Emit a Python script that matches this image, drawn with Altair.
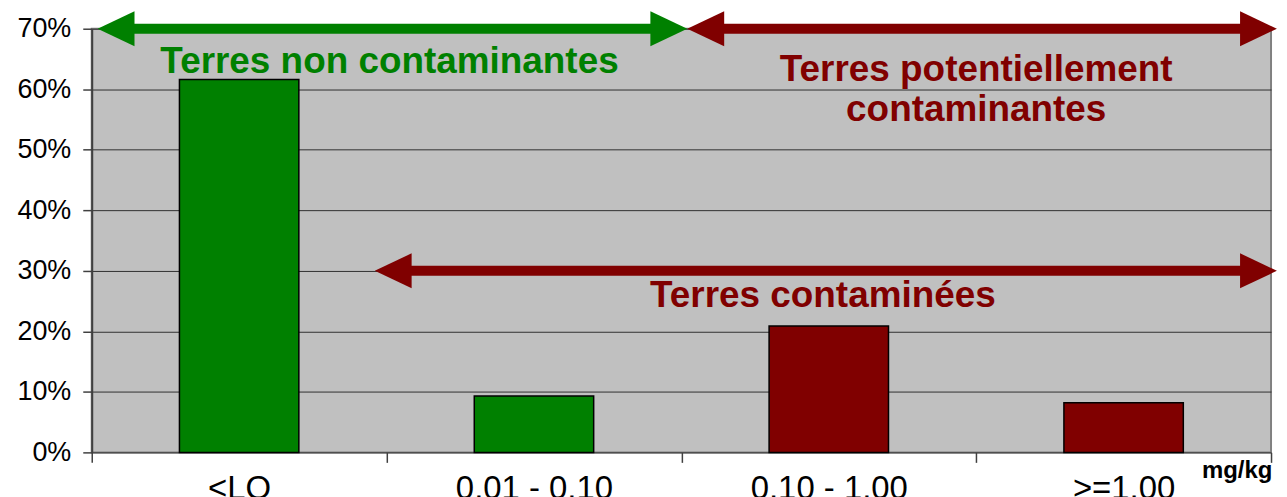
import altair as alt
import pandas as pd

# ---- data ----
categories = ["<LQ", "0,01 - 0,10", "0,10 - 1,00", ">=1,00"]
shares = [0.616, 0.093, 0.209, 0.082]
bar_colors = ["#008000", "#008000", "#800000", "#800000"]

arrow_start = [0.02, 2.02, 0.96]
arrow_end = [2.02, 4.02, 4.02]
arrow_level = [0.70, 0.70, 0.30]
arrow_colors = ["#008000", "#800000", "#800000"]

note_texts = ["Terres non contaminantes", "Terres potentiellement", "contaminantes",
              "Terres contaminées", "mg/kg"]
note_x = [1.01, 3.0, 3.0, 2.48, 3.885]
note_y = [0.645, 0.632, 0.566, 0.258, -0.031]
note_colors = ["#008000", "#800000", "#800000", "#800000", "#000000"]
note_sizes = [37, 37, 37, 37, 24]

y_ticks = [0, 0.1, 0.2, 0.3, 0.4, 0.5, 0.6, 0.7]

W, H = 1183, 425
FONT = "Liberation Sans"

bars = pd.DataFrame({"cat": categories, "share": shares, "color": bar_colors,
                     "idx": list(range(len(categories)))})
arrows = pd.DataFrame({"x0": arrow_start, "x1": arrow_end, "y": arrow_level, "color": arrow_colors})
notes = pd.DataFrame({"text": note_texts, "x": note_x, "y": note_y, "color": note_colors,
                      "size": note_sizes})

xscale = alt.Scale(domain=[0, len(categories)], nice=False, zero=False)
yscale = alt.Scale(domain=[0, 0.7], nice=False)

label_expr = " : ".join(f"datum.value == {i} ? '{c}'" for i, c in enumerate(categories)) + " : ''"

x_axis = alt.Axis(values=list(range(len(categories) + 1)), labelExpr=label_expr,
                  labelOffset=W / (2 * len(categories)), labelFlush=False, labelOverlap=False,
                  labelFontSize=33, labelFont=FONT, labelColor="black", labelPadding=10,
                  tickSize=10, tickColor="#404040", tickWidth=1.5, domain=False, grid=False,
                  title=None)
y_axis = alt.Axis(values=y_ticks, format=".0%", labelFontSize=27, labelFont=FONT,
                  labelColor="black", labelPadding=12, grid=True, gridColor="#303030",
                  gridWidth=1, gridOpacity=1, tickSize=9, tickColor="#404040", tickWidth=1.5,
                  domainColor="#404040", domainWidth=2, title=None)

bar_layer = alt.Chart(bars).transform_calculate(
    x0="datum.idx + 0.2975", x1="datum.idx + 0.7025"
).mark_rect(stroke="black", strokeWidth=1.5).encode(
    x=alt.X("x0:Q", scale=xscale, axis=x_axis),
    x2="x1:Q",
    y=alt.Y("share:Q", scale=yscale, axis=y_axis),
    y2=alt.datum(0),
    color=alt.Color("color:N", scale=None),
)

shaft = alt.Chart(arrows).mark_rule(strokeWidth=10, xOffset=34, x2Offset=-34).encode(
    x=alt.X("x0:Q", scale=xscale, title=None),
    x2="x1:Q",
    y=alt.Y("y:Q", scale=yscale, title=None),
    color=alt.Color("color:N", scale=None),
)

left_head = alt.Chart(arrows).mark_point(
    shape="M0,0L2,-0.95L2,0.95Z", filled=True, opacity=1, size=1369, strokeWidth=0
).encode(
    x=alt.X("x0:Q", scale=xscale, title=None),
    y=alt.Y("y:Q", scale=yscale, title=None),
    color=alt.Color("color:N", scale=None),
)

right_head = alt.Chart(arrows).mark_point(
    shape="M0,0L-2,-0.95L-2,0.95Z", filled=True, opacity=1, size=1369, strokeWidth=0
).encode(
    x=alt.X("x1:Q", scale=xscale, title=None),
    y=alt.Y("y:Q", scale=yscale, title=None),
    color=alt.Color("color:N", scale=None),
)

text_layer = alt.Chart(notes).mark_text(
    font=FONT, fontWeight="bold", align="center", baseline="middle"
).encode(
    x=alt.X("x:Q", scale=xscale, title=None),
    y=alt.Y("y:Q", scale=yscale, title=None),
    text="text:N",
    color=alt.Color("color:N", scale=None),
    size=alt.Size("size:Q", scale=None),
)

chart = alt.layer(bar_layer, shaft, left_head, right_head, text_layer).properties(
    width=W, height=H,
    padding={"left": 84, "top": 20, "right": 8, "bottom": 52},
    autosize=alt.AutoSizeParams(type="none"),
    background="white",
).configure_view(fill="#C0C0C0", stroke="#808080", strokeWidth=2)

chart.save("out.html", embed_options={"renderer": "svg", "actions": False})
